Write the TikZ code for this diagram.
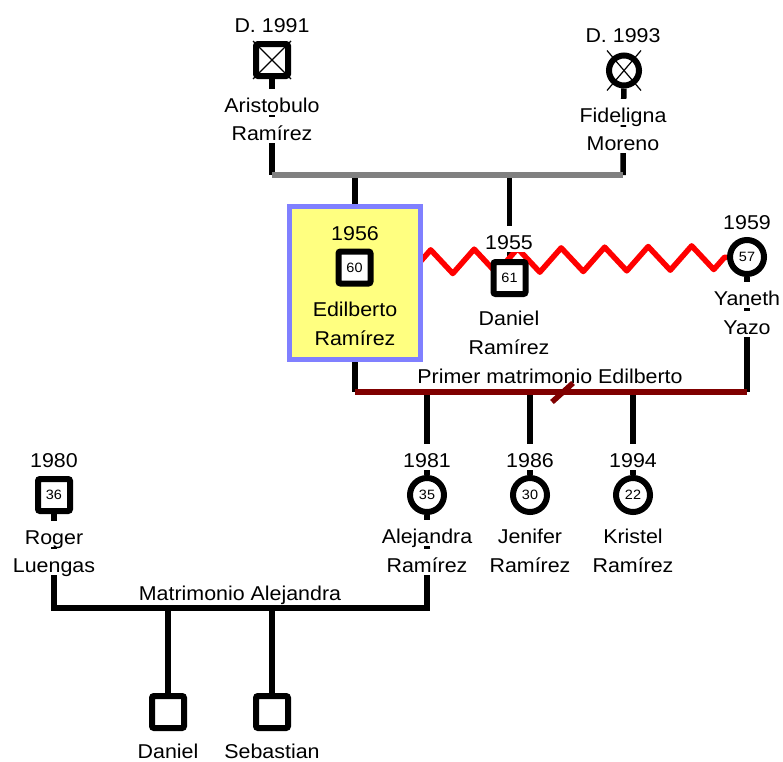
\documentclass[tikz,border=0pt]{standalone}
\usepackage{fontspec}
\newfontfamily\pedfont[FakeStretch=1.07]{Liberation Sans}
\usetikzlibrary{decorations.pathmorphing,backgrounds}

\definecolor{boxyellow}{RGB}{255,255,128}
\definecolor{boxblue}{RGB}{128,128,255}
\definecolor{mardarkred}{RGB}{128,0,0}
\definecolor{bargray}{RGB}{128,128,128}

\tikzset{
  male/.style={draw,line width=6pt,rounded corners=2pt,minimum size=32pt,inner sep=0pt,
    fill=white,font=\pedfont\fontsize{13.5}{15}\selectfont},
  female/.style={male,circle,minimum size=34pt},
  pedname/.style={fill=white,inner xsep=1pt,inner ysep=0.5pt,text height=23pt,text depth=2pt,
    anchor=base,font=\pedfont\fontsize{20}{22}\selectfont},
  plaintext/.style={pedname,fill=none},
  kin/.style={line width=5.5pt},
  zig/.style={line width=5.5pt,red,line join=round,decorate,
    decoration={zigzag,segment length=43.5pt,amplitude=12pt}},
}

\begin{document}
\begin{tikzpicture}[x=1pt,y=-1pt]
  \useasboundingbox (0,0) rectangle (783,761);

%% grandparents
  \node[male] (aris) at (272,60) {};
  \node[pedname] (arisyr) at (272,32) {D. 1991};
  \node[pedname] (arisna) at (272,112) {Aristobulo};
  \node[pedname] (arisnb) at (272,140) {Ramírez};
  \draw[line width=1.2pt] (aris.north west) -- (aris.south east);
  \draw[line width=1.2pt] (aris.north east) -- (aris.south west);

  \node[female,minimum size=30pt] (fide) at (624,70.5) {};
  \node[pedname] (fideyr) at (623,42) {D. 1993};
  \node[pedname] (fidena) at (623,122) {Fideligna};
  \node[pedname] (fidenb) at (623,150) {Moreno};
  \draw[line width=1.2pt] ([shift={(-17,-20)}]fide.center) -- ([shift={(17,20)}]fide.center);
  \draw[line width=1.2pt] ([shift={(17,-20)}]fide.center) -- ([shift={(-17,20)}]fide.center);

%% Edilberto
  \node[draw=boxblue,fill=boxyellow,line width=5pt,minimum width=131pt,minimum height=153pt] (edilbox) at (355,283) {};
  \node[male] (edil) at (354.5,267.5) {60};
  \node[plaintext] (edilyr) at (355,240) {1956};
  \node[plaintext] (edilna) at (355,316) {Edilberto};
  \node[plaintext] (edilnb) at (355,345) {Ramírez};

%% Daniel, Yaneth
  \node[male] (dan) at (509.5,278) {61};
  \node[pedname] (danyr) at (509,249) {1955};
  \node[pedname] (danna) at (509,325) {Daniel};
  \node[pedname] (dannb) at (509,354) {Ramírez};

  \node[female] (yan) at (747,257) {57};
  \node[pedname] (yanyr) at (747,229) {1959};
  \node[pedname] (yanna) at (747,305) {Yaneth};
  \node[pedname] (yannb) at (747,334) {Yazo};

  \node[plaintext] (marone) at (550,383) {Primer matrimonio Edilberto};

%% children
  \node[female] (alej) at (427,495) {35};
  \node[pedname] (alejyr) at (427,467) {1981};
  \node[pedname] (alejna) at (427,543) {Alejandra};
  \node[pedname] (alejnb) at (427,572) {Ramírez};

  \node[female] (jen) at (530,495) {30};
  \node[pedname] (jenyr) at (530,467) {1986};
  \node[pedname] (jenna) at (530,543) {Jenifer};
  \node[pedname] (jennb) at (530,572) {Ramírez};

  \node[female] (kri) at (633,495) {22};
  \node[pedname] (kriyr) at (633,467) {1994};
  \node[pedname] (krina) at (633,543) {Kristel};
  \node[pedname] (krinb) at (633,572) {Ramírez};

  \node[male] (roger) at (54,495) {36};
  \node[pedname] (rogeryr) at (54,467) {1980};
  \node[pedname] (rogerna) at (54,544) {Roger};
  \node[pedname] (rogernb) at (54,572) {Luengas};

  \node[plaintext] (martwo) at (240,600) {Matrimonio Alejandra};

%% grandchildren
  \node[male] (dj) at (168,712) {};
  \node[pedname] (djna) at (168,758) {Daniel};
  \node[male] (seb) at (272,712) {};
  \node[pedname] (sebna) at (272,758) {Sebastian};

%% lines
  \begin{scope}[on background layer]
    \coordinate (arisbar) at (272,175);
    \coordinate (fidebar) at (623,175);
    \draw[kin] (aris) -- (arisbar);
    \draw[kin] (fide) -- (fidebar);
    \draw[kin] (edilbox.north |- arisbar) -- (edilbox.north);
    \draw[kin] (dan.north |- arisbar) -- (dan);
    \draw[kin,bargray] (arisbar) -- (fidebar);

    \draw[zig] ([xshift=-3pt,yshift=21pt]edilbox.east) -- (yan);

    \coordinate (edilmar) at (355,392);
    \coordinate (yanmar) at (747,392);
    \draw[kin] (edilbox) -- (edilmar);
    \draw[kin] (yan) -- (yanmar);
    \draw[kin] (alej) -- (alej |- edilmar);
    \draw[kin] (jen) -- (jen |- edilmar);
    \draw[kin] (kri) -- (kri |- edilmar);
    \draw[kin,mardarkred] (edilmar) -- (yanmar);

    \coordinate (alejmar) at (427,608);
    \draw[kin] (roger) |- (alejmar) -- (alej);
    \draw[kin] (dj) -- (dj |- alejmar);
    \draw[kin] (seb) -- (seb |- alejmar);
  \end{scope}

%% divorce
  \coordinate (divmark) at (562,392);
  \draw[kin,mardarkred] ([shift={(-10,10)}]divmark) -- ([shift={(11,-9)}]divmark);
\end{tikzpicture}
\end{document}
